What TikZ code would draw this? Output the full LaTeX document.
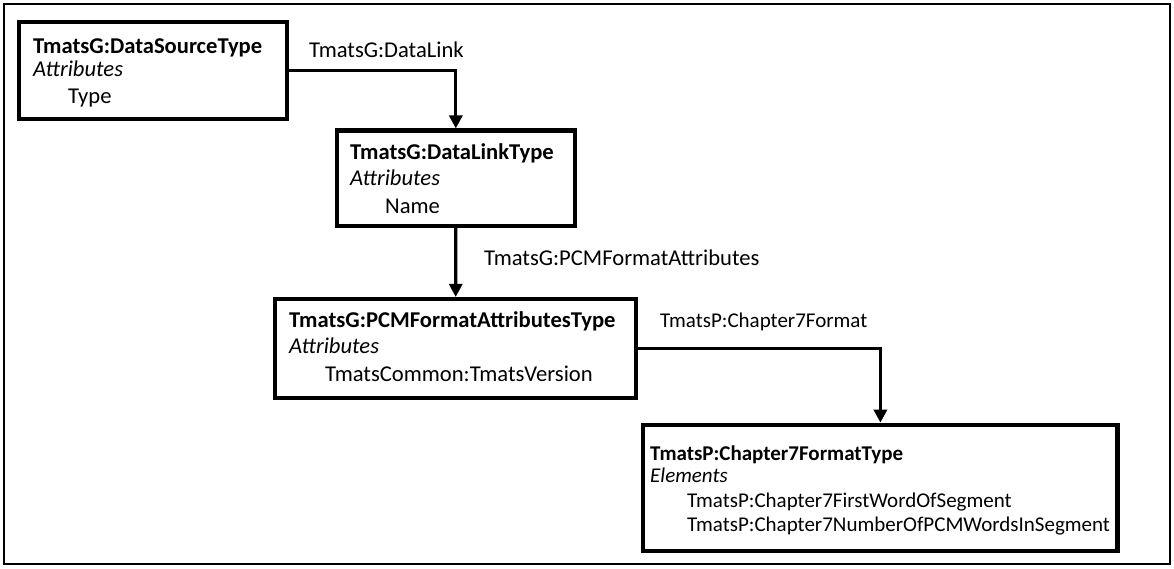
\documentclass[tikz,border=0pt]{standalone}
\usepackage{fontspec}
\setmainfont{Carlito}
\usetikzlibrary{arrows.meta}
\begin{document}
\begin{tikzpicture}[x=1pt,y=-1pt,
  box/.style={draw,line width=4.2pt,inner sep=0pt,fill=white},
  ln/.style={inner sep=0pt,anchor=base west,font=\fontsize{22.6}{27}\selectfont},
  hd/.style={ln,font=\fontsize{22.6}{27}\selectfont\bfseries},
  it/.style={ln,font=\fontsize{22.6}{27}\selectfont\itshape},
  lns/.style={inner sep=0pt,anchor=base west,font=\fontsize{21}{25}\selectfont},
  hds/.style={lns,font=\fontsize{21}{25}\selectfont\bfseries},
  its/.style={lns,font=\fontsize{21}{25}\selectfont\itshape},
  conn/.style={line width=3.2pt,-{Triangle[length=13pt,width=13pt]}}
]
\useasboundingbox (0,0) rectangle (1174,568);
\draw[line width=1.6pt] (4,4) rectangle (1170,564);

% boxes
\node[box,minimum width=268.3pt,minimum height=96.7pt] (b1) at (152.9,70.3) {};
\node[box,minimum width=238.3pt,minimum height=95.3pt] (b2) at (455.8,178.2) {};
\node[box,minimum width=361.3pt,minimum height=99.3pt] (b3) at (455.7,348.7) {};
\node[box,minimum width=474.2pt,minimum height=126.1pt] (b4) at (880.4,487.8) {};

% box 1 text
\node[hd] (b1t) at (33,53) {TmatsG:DataSourceType};
\node[it] (b1a) at (33,76) {Attributes};
\node[ln] (b1n) at (68,103) {Type};

% box 2 text
\node[hd] (b2t) at (350,159) {TmatsG:DataLinkType};
\node[it] (b2a) at (350,185.7) {Attributes};
\node[ln] (b2n) at (385,213) {Name};

% box 3 text
\node[hd] (b3t) at (289,327) {TmatsG:PCMFormatAttributesType};
\node[it] (b3a) at (289,353.3) {Attributes};
\node[ln] (b3n) at (325,381.7) {TmatsCommon:TmatsVersion};

% box 4 text
\node[hds] (b4t) at (650,460) {TmatsP:Chapter7FormatType};
\node[its] (b4a) at (650,482) {Elements};
\node[lns] (b4n1) at (687,507.3) {TmatsP:Chapter7FirstWordOfSegment};
\node[lns] (b4n2) at (687,531.7) {TmatsP:Chapter7NumberOfPCMWordsInSegment};

% connector labels
\node[ln] (l1) at (309,57) {TmatsG:DataLink};
\node[ln] (l2) at (484,265) {TmatsG:PCMFormatAttributes};
\node[lns] (l3) at (660,327) {TmatsP:Chapter7Format};

% connectors
\draw[conn] (b1.east) -| (b2.north);
\draw[conn] (b2.south) -- (b3.north);
\draw[conn] (b3.east) -| (b4.north);
\end{tikzpicture}
\end{document}
